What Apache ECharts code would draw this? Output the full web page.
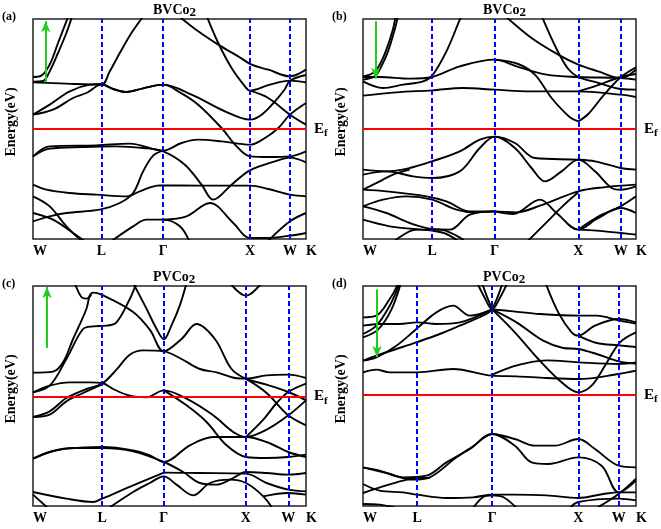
<!DOCTYPE html>
<html><head><meta charset="utf-8">
<script src="https://cdn.jsdelivr.net/npm/echarts@6/dist/echarts.min.js"></script>
<style>html,body{margin:0;padding:0;background:#fff}#c{width:661px;height:529px}</style>
</head><body><div id="c"></div>
<script>
// ---------- DATA ----------
const kLabels = ['W', 'L', 'Γ', 'X', 'W', 'K'];
const kA = [0, 2.05, 3.90, 6.50, 7.70, 8.18];
const kB = [0, 2.07, 3.95, 6.45, 7.72, 8.18];
const kC = [0, 2.07, 3.92, 6.38, 7.65, 8.18];
const kD = [0, 1.62, 3.87, 6.45, 7.66, 8.18];
const titlesTxt = ['BVCo', 'BVCo', 'PVCo', 'PVCo'];
const tagsTxt = ['(a)', '(b)', '(c)', '(d)'];
// arrows: [k, E start, E end]
const arrowA = [0.38, 1.40, 3.23];
const arrowB = [0.38, 3.23, 1.51];
const arrowC = [0.42, 1.45, 3.28];
const arrowD = [0.42, 3.16, 1.13];

const bandsA = [
 [[0,1.56],[0.25,1.60],[0.5,1.93],[0.75,2.58],[1.0,3.23],[1.06,3.4]],
 [[0,1.42],[0.3,1.44],[0.5,1.73],[0.75,2.28],[1.0,2.88],[1.18,3.4]],
 [[0,1.40],[1.0,1.36],[2.05,1.33],[2.3,1.73],[2.6,2.28],[2.95,2.88],[3.32,3.4]],
 [[0,0.43],[0.5,0.73],[1.1,1.13],[1.7,1.33],[2.05,1.35],[2.4,1.2],[2.8,1.11],[3.3,1.22],[3.9,1.33],[4.75,1.03],[5.75,0.53],[6.5,0.28],[6.85,0.43],[7.25,0.83],[7.55,1.2],[7.7,1.45],[8.18,1.62]],
 [[0,0.43],[0.6,0.58],[1.2,0.93],[1.6,1.08],[2.05,1.33],[2.4,1.2],[2.8,1.11],[3.3,1.22],[3.9,1.33],[4.4,1.1],[4.95,0.73],[5.65,0.03],[6.1,-0.52],[6.5,-0.82],[7.1,-0.84],[7.7,-0.82],[8.18,-0.67]],
 [[4.35,3.4],[4.95,2.93],[5.55,2.53],[6.15,2.18],[6.55,1.93],[7.05,1.78],[7.7,1.58],[8.18,1.78]],
 [[5.2,3.4],[5.55,2.58],[5.95,1.83],[6.35,1.28],[6.5,1.15],[7.1,1.33],[7.7,1.45],[8.18,1.40]],
 [[6.5,1.15],[7.05,0.93],[7.7,0.43],[8.18,0.13]],
 [[0,-0.82],[0.5,-0.52],[1.9,-0.49],[2.9,-0.44],[3.9,-0.65],[4.45,-0.42],[4.95,-0.32],[5.65,-0.37],[6.5,-0.47],[6.95,-0.27],[7.35,0.03],[7.7,0.43],[8.18,0.78]],
 [[0,-0.82],[0.5,-0.59],[1.5,-0.54],[2.5,-0.52],[3.3,-0.57],[3.9,-0.67],[4.55,-1.07],[5.05,-1.67],[5.4,-2.12],[5.95,-1.67],[6.5,-1.24],[7.25,-0.97],[7.7,-0.86],[8.18,-1.0]],
 [[0,-1.67],[0.4,-1.82],[1.1,-1.92],[1.9,-1.97],[2.8,-2.02],[3.2,-1.87],[3.8,-1.69],[5.0,-1.70],[6.5,-1.70],[7.05,-1.8],[7.7,-1.97],[8.18,-2.02]],
 [[0,-2.77],[0.5,-2.62],[1.0,-2.52],[2.0,-2.42],[2.6,-2.22],[3.0,-1.92],[3.3,-1.27],[3.6,-0.8],[3.9,-0.65]],
 [[0,-2.02],[0.5,-2.32],[1.0,-2.92],[1.5,-3.4]],
 [[0,-2.52],[0.6,-2.72],[1.2,-3.12],[1.6,-3.4]],
 [[2.3,-3.4],[3.0,-2.92],[3.4,-2.72],[3.9,-2.72],[4.4,-2.92],[4.7,-3.4]],
 [[3.9,-2.72],[4.6,-2.62],[5.3,-2.22],[6.0,-2.82],[6.5,-3.27],[7.0,-3.27],[7.7,-3.2],[8.18,-3.12]],
 [[7.0,-3.4],[7.7,-2.77],[8.18,-2.52]]
];

const bandsB = [
 [[0,1.58],[0.3,1.68],[0.5,1.93],[0.7,2.38],[0.9,3.0],[0.98,3.4]],
 [[0,1.48],[0.35,1.58],[0.55,1.88],[0.75,2.33],[0.95,2.98],[1.05,3.4]],
 [[0,1.43],[0.6,1.23],[1.2,1.33],[1.8,1.43],[2.07,1.6],[2.5,2.33],[2.9,3.28],[2.95,3.4]],
 [[0,1.56],[0.5,1.56],[1.4,1.51],[2.07,1.56],[2.9,1.88],[3.95,2.08],[4.6,1.88],[5.5,1.63],[6.45,1.56],[7.72,1.53],[8.18,1.48]],
 [[0,1.0],[1.0,1.1],[2.07,1.16],[3.0,1.23],[3.95,1.18],[5.0,1.13],[6.45,1.13],[7.72,1.03],[8.18,0.96]],
 [[4.25,3.4],[5.05,2.73],[5.85,2.23],[6.45,1.93],[7.05,1.73],[7.72,1.53],[8.18,1.78]],
 [[5.35,3.4],[5.8,2.4],[6.15,1.8],[6.45,1.56],[7.0,1.4],[7.72,1.2],[8.18,1.18]],
 [[3.95,2.08],[4.65,1.95],[5.15,1.63],[5.65,0.93],[6.2,0.35],[6.45,0.23]],
 [[6.45,0.23],[6.75,0.45],[7.2,1.0],[7.72,1.55],[8.18,1.85]],
 [[6.45,1.13],[7.0,1.3],[7.72,1.56],[8.18,1.65]],
 [[0,-1.22],[0.7,-1.27],[1.4,-1.17],[2.07,-0.97],[2.9,-0.67],[3.5,-0.32],[3.95,-0.23],[4.55,-0.42],[5.15,-0.87],[6.45,-0.92],[6.95,-0.97],[7.72,-1.17],[8.18,-1.22]],
 [[0,-1.37],[0.7,-1.27],[1.5,-1.42],[2.07,-1.47],[2.9,-1.27],[3.5,-0.57],[3.95,-0.23],[4.55,-0.57],[5.05,-1.17],[5.45,-1.57],[5.95,-1.27],[6.45,-0.92],[6.95,-1.27],[7.45,-1.77],[7.72,-1.82],[8.18,-1.72]],
 [[0,-1.82],[0.7,-1.87],[1.9,-2.02],[2.5,-2.17],[3.2,-2.47],[3.95,-2.47],[4.6,-2.5],[5.3,-2.3],[6.45,-1.87],[7.2,-1.75],[8.18,-1.67]],
 [[0,-1.82],[0.5,-1.57],[0.9,-1.37],[1.4,-1.22]],
 [[0,-2.32],[0.7,-2.52],[1.4,-2.82],[2.07,-3.0],[2.6,-3.02],[3.2,-2.57],[3.95,-2.47]],
 [[0,-2.32],[0.6,-2.12],[1.3,-2.02],[2.07,-2.12],[2.8,-2.42],[3.3,-2.5],[3.95,-2.47]],
 [[0,-2.72],[0.8,-2.92],[1.5,-3.0],[2.07,-3.05],[2.5,-3.15],[2.9,-3.4]],
 [[0.9,-3.4],[1.6,-3.02],[2.3,-3.02],[2.8,-3.2],[3.1,-3.4]],
 [[3.95,-2.47],[4.5,-2.55],[5.3,-2.12],[5.8,-2.52],[6.45,-3.02],[7.0,-2.7],[7.72,-2.37],[8.18,-2.52]],
 [[4.9,-3.4],[5.5,-2.8],[6.0,-2.3],[6.45,-1.9]],
 [[6.45,-3.02],[7.0,-3.05],[7.72,-3.12],[8.18,-3.17]],
 [[6.45,-3.02],[7.1,-2.6],[7.72,-2.32],[8.18,-2.02]]
];

const bandsC = [
 [[0,0.71],[0.6,0.74],[0.9,1.02],[1.2,1.72],[1.6,2.62],[1.7,3.02],[1.8,3.11],[2.05,3.05],[3.0,2.53],[3.5,2.0],[3.92,1.35],[4.45,1.72],[4.9,2.17],[5.45,1.72],[5.95,0.82],[6.38,0.53],[7.0,0.35],[7.65,0.13],[8.18,-0.12]],
 [[0,0.12],[0.5,0.32],[1.0,1.12],[1.5,2.02],[1.8,2.1],[2.2,2.12],[2.5,2.22],[2.9,2.92],[3.1,3.4]],
 [[3.0,3.4],[3.4,2.63],[3.7,2.03],[3.92,1.71],[4.15,2.13],[4.4,2.73],[4.6,3.4]],
 [[1.25,3.4],[1.45,2.98],[1.6,2.93],[1.75,3.05]],
 [[0,0.12],[0.5,0.32],[1.1,0.42],[1.7,0.42],[2.07,0.4],[2.4,0.22],[2.9,0.02],[3.4,-0.03],[3.92,0.18],[4.6,-0.07],[5.4,-0.57],[6.0,-1.07],[6.38,-1.22],[7.0,-1.0],[7.65,-0.57],[8.18,-0.12]],
 [[0,-0.62],[0.5,-0.45],[1.0,-0.05],[1.6,0.22],[2.07,0.38],[2.5,0.8],[2.9,1.25],[3.3,1.38],[3.92,1.35],[4.45,1.12],[5.0,0.82],[5.5,0.72],[6.05,0.55],[6.38,0.53],[7.0,0.63],[7.65,0.65],[8.18,0.55]],
 [[0,-0.62],[0.5,-0.55],[1.0,-0.15],[1.5,0.1],[2.07,0.36]],
 [[3.92,0.18],[4.6,-0.27],[5.2,-0.77],[5.8,-1.47],[6.38,-1.82],[7.0,-1.85],[7.65,-1.82],[8.18,-1.75]],
 [[6.38,0.53],[7.0,0.1],[7.65,-0.57],[8.18,-0.87]],
 [[6.38,-1.22],[6.9,-0.7],[7.3,-0.2],[7.65,0.13],[8.18,0.38]],
 [[5.9,3.4],[6.38,3.02],[6.85,3.4]],
 [[0,-1.87],[0.5,-1.67],[1.0,-1.57],[2.07,-1.52],[3.0,-1.62],[3.5,-1.77],[3.92,-1.97],[4.7,-1.47],[5.4,-1.22],[6.38,-1.22],[7.0,-1.37],[7.65,-1.67],[8.18,-1.82]],
 [[0,-1.87],[0.6,-1.64],[1.2,-1.55],[2.07,-1.55],[3.0,-1.65],[3.92,-1.97],[4.5,-2.27],[5.0,-2.6],[5.5,-2.65],[6.0,-2.45],[6.38,-2.27],[7.0,-2.3],[7.65,-2.35],[8.18,-2.3]],
 [[3.92,-2.29],[5.0,-2.3],[6.38,-2.32],[7.0,-2.6],[7.65,-2.8],[8.18,-2.85]],
 [[0,-2.87],[1.0,-3.07],[1.8,-3.17],[2.07,-3.07],[3.0,-2.67],[3.92,-2.29]],
 [[2.2,-3.4],[3.0,-2.87],[3.5,-2.6],[3.92,-2.4],[4.3,-2.65],[4.8,-2.97],[5.3,-2.6],[5.9,-2.5],[6.38,-2.6],[6.9,-3.0],[7.2,-3.4]],
 [[0,-2.95],[0.5,-3.4]],
 [[6.9,-3.0],[7.65,-2.9],[8.18,-2.95]]
];

const bandsD = [
 [[0,2.32],[0.4,2.37],[0.8,2.87],[1.0,3.22],[1.05,3.4]],
 [[0,1.82],[0.4,2.07],[0.8,2.67],[1.05,3.22],[1.1,3.4]],
 [[0,1.72],[0.45,1.95],[0.85,2.55],[1.15,3.4]],
 [[0,2.07],[0.5,2.12],[1.1,2.12],[1.62,2.17],[2.2,2.12],[2.9,2.17],[3.87,2.56]],
 [[0,1.02],[0.4,1.12],[1.0,1.47],[1.6,1.97],[2.2,2.47],[2.7,2.67],[3.2,2.37],[3.87,2.56]],
 [[0,1.02],[0.4,1.17],[1.0,1.37],[1.6,1.57],[2.3,1.82],[2.9,2.07],[3.7,2.42],[3.87,2.56]],
 [[3.4,3.4],[3.65,2.9],[3.87,2.56],[4.1,2.9],[4.35,3.4]],
 [[3.55,3.4],[3.75,2.85],[3.87,2.62],[4.0,2.85],[4.2,3.4]],
 [[3.87,2.56],[4.5,2.5],[5.3,2.42],[6.45,2.37],[7.0,2.37],[7.66,2.23],[8.18,2.13]],
 [[3.87,2.56],[4.55,1.87],[5.25,1.07],[5.95,0.37],[6.45,0.07],[6.85,0.27],[7.25,0.87],[7.7,1.57],[8.18,1.87]],
 [[5.45,3.4],[5.85,2.47],[6.25,1.87],[6.45,1.77],[6.95,2.07],[7.66,2.27],[8.18,2.17]],
 [[6.45,1.77],[7.0,1.55],[7.66,1.48],[8.18,1.43]],
 [[3.87,2.56],[4.6,2.17],[5.4,1.62],[6.0,1.4],[6.45,1.37],[7.0,1.22],[7.66,1.0],[8.18,0.93]],
 [[0,0.67],[0.4,0.75],[0.8,0.67],[1.62,0.67],[2.7,0.77],[3.87,0.57],[4.6,0.55],[5.5,0.5],[6.45,0.47],[7.66,0.62],[8.18,0.72]],
 [[3.87,0.6],[4.5,0.85],[5.0,0.97],[5.5,1.03],[6.45,0.97],[7.66,0.92],[8.18,0.97]],
 [[0,-2.18],[0.5,-2.28],[1.2,-2.48],[1.9,-2.43],[2.5,-2.03],[3.2,-1.63],[3.87,-1.18],[4.55,-1.33],[5.15,-1.53],[5.75,-1.53],[6.45,-1.33],[6.95,-1.63],[7.66,-2.13],[8.18,-2.18]],
 [[0,-2.18],[0.7,-2.35],[1.5,-2.55],[2.0,-2.48],[2.8,-1.88],[3.3,-1.55],[3.87,-1.18],[4.55,-1.53],[5.05,-2.03],[5.55,-2.08],[6.45,-1.88],[7.15,-2.13],[7.66,-2.93],[8.18,-2.58]],
 [[0,-2.68],[0.5,-2.88],[1.2,-2.93],[1.62,-3.0],[2.5,-3.1],[3.3,-3.08],[3.87,-3.0],[4.5,-3.0],[5.5,-3.02],[6.45,-3.1],[7.2,-2.98],[7.66,-2.93],[8.18,-2.93]],
 [[0,-2.95],[0.6,-2.75],[1.2,-2.58],[1.62,-2.5],[2.0,-2.5]],
 [[3.3,-3.4],[3.6,-3.07],[3.87,-3.02],[4.2,-3.07],[4.6,-3.4]],
 [[6.2,-3.4],[6.45,-3.22],[7.66,-3.12],[8.18,-3.17]],
 [[7.0,-3.4],[7.66,-2.98],[8.18,-2.52]],
 [[0,-3.28],[0.5,-3.3],[1.0,-3.4]]
];

// ---------- LAYOUT ----------
const FONT = 'Liberation Serif';
const panels = [
  {bands: bandsA, k: kA, yr: [-3.3, 3.3], arrow: arrowA, left: 33, top: 19},
  {bands: bandsB, k: kB, yr: [-3.3, 3.3], arrow: arrowB, left: 363, top: 19},
  {bands: bandsC, k: kC, yr: [-3.29, 3.31], arrow: arrowC, left: 33, top: 286},
  {bands: bandsD, k: kD, yr: [-3.34, 3.26], arrow: arrowD, left: 363, top: 286}
];
const W = 273, H = 220;

const grid = [], xAxis = [], yAxis = [], series = [], title = [];
panels.forEach((p, i) => {
  grid.push({left: p.left, top: p.top, width: W, height: H, show: true,
    borderColor: '#222', borderWidth: 1.5, backgroundColor: '#fff'});
  xAxis.push({type: 'value', gridIndex: i, min: 0, max: p.k[p.k.length - 1],
    axisLine: {show: false}, axisTick: {show: false}, splitLine: {show: false},
    axisLabel: {customValues: p.k, alignMinLabel: 'left', alignMaxLabel: 'left', margin: 5,
      formatter: v => { const j = p.k.findIndex(q => Math.abs(q - v) < 1e-6); return j >= 0 ? kLabels[j] : ''; },
      fontFamily: FONT, fontWeight: 'bold', fontSize: 14, color: '#000'}});
  yAxis.push({type: 'value', gridIndex: i, min: p.yr[0], max: p.yr[1],
    axisLine: {show: false}, axisTick: {show: false}, axisLabel: {show: false}, splitLine: {show: false},
    name: 'Energy(eV)', nameLocation: 'middle', nameGap: 15,
    nameTextStyle: {fontFamily: FONT, fontWeight: 'bold', fontSize: 14, color: '#000', padding: [0, 0, 0, 14]}});
  p.bands.forEach(b => series.push({type: 'line', xAxisIndex: i, yAxisIndex: i, data: b,
    smooth: 0.35, showSymbol: false, symbol: 'none', silent: true, clip: true, z: 2,
    lineStyle: {color: '#000', width: 1.9}}));
  const vlines = p.k.slice(1, p.k.length - 1).map(v => ({xAxis: v}));
  series.push({type: 'line', xAxisIndex: i, yAxisIndex: i, data: [[0, 0]], showSymbol: false, symbol: 'none',
    lineStyle: {opacity: 0}, silent: true, z: 5,
    markLine: {silent: true, symbol: 'none', animation: false,
      label: {show: false},
      lineStyle: {color: '#0000ff', type: [5, 3], width: 2},
      data: vlines.concat([{yAxis: 0, lineStyle: {color: '#ff0000', type: 'solid', width: 2},
        label: {show: true, position: 'end', distance: 8, formatter: '{e|E}{f|f}',
          rich: {e: {fontFamily: FONT, fontWeight: 'bold', fontSize: 15, color: '#000'},
                 f: {fontFamily: FONT, fontWeight: 'bold', fontSize: 11, color: '#000', padding: [9, 0, 0, 0]}}}}])}});
  const a = p.arrow;
  series.push({type: 'line', xAxisIndex: i, yAxisIndex: i, data: [[0, 0]], showSymbol: false, symbol: 'none',
    lineStyle: {opacity: 0}, silent: true, z: 6,
    markLine: {silent: true, symbol: ['none', 'arrow'], symbolSize: [7, 11], animation: false,
      label: {show: false}, lineStyle: {color: '#22cc22', type: 'solid', width: 2},
      data: [[{coord: [a[0], a[1]]}, {coord: [a[0], a[2]]}]]}});
  title.push({text: '{a|' + titlesTxt[i] + '}{b|2}', left: p.left + 120, top: p.top - 18, padding: 0,
    textStyle: {rich: {a: {fontFamily: FONT, fontWeight: 'bold', fontSize: 14, color: '#000'},
                       b: {fontFamily: FONT, fontWeight: 'bold', fontSize: 13, color: '#000', padding: [5, 0, 0, 0]}}}});
  title.push({text: tagsTxt[i], left: p.left - 31, top: p.top - 8, padding: 0,
    textStyle: {fontFamily: FONT, fontWeight: 'bold', fontSize: 12, color: '#000'}});
});

const chart = echarts.init(document.getElementById('c'), null, {renderer: 'canvas'});
chart.setOption({animation: false, backgroundColor: '#fff', grid, xAxis, yAxis, series, title});
</script></body></html>
